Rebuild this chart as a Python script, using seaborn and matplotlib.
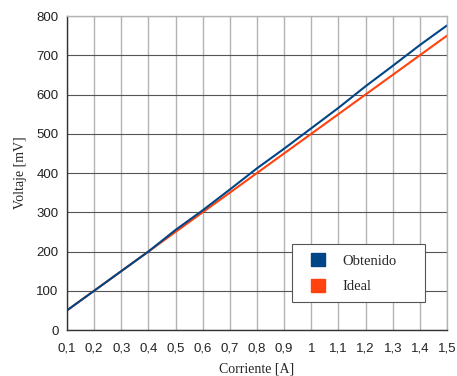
import numpy as np
import pandas as pd
import matplotlib
matplotlib.use("Agg")
import matplotlib.pyplot as plt
import seaborn as sns
from matplotlib.patches import Patch, Rectangle
from matplotlib.legend_handler import HandlerPatch
from matplotlib.ticker import FuncFormatter

# valores
corriente = [0.1, 0.2, 0.3, 0.4, 0.5, 0.6, 0.7, 0.8, 0.9, 1.0, 1.1, 1.2, 1.3, 1.4, 1.5]
obtenido = [50, 100, 150, 200, 255, 305, 358, 412, 462, 514, 566, 621, 673, 726, 776]
ideal = [50, 100, 150, 200, 250, 300, 350, 400, 450, 500, 550, 600, 650, 700, 750]

series_names = ["Obtenido", "Ideal"]
series_colors = ["#004586", "#ff420e"]

df = pd.DataFrame({
    "Corriente": corriente * 2,
    "Voltaje": obtenido + ideal,
    "Serie": ["Obtenido"] * len(corriente) + ["Ideal"] * len(corriente),
})

sns.set_style("white")
plt.rcParams["font.family"] = ["Liberation Sans", "DejaVu Sans"]

fig = plt.figure(figsize=(4.57, 3.76), dpi=100)
ax = fig.add_axes([0.1466, 0.1223, 0.8315, 0.8351])

sns.lineplot(data=df[df["Serie"] == "Ideal"], x="Corriente", y="Voltaje",
             color=series_colors[1], linewidth=1.5, ax=ax, legend=False)
sns.lineplot(data=df[df["Serie"] == "Obtenido"], x="Corriente", y="Voltaje",
             color=series_colors[0], linewidth=1.5, ax=ax, legend=False)

ax.set_xlim(0.1, 1.5)
ax.set_ylim(0, 800)
ax.set_xticks(corriente)
ax.set_yticks(np.arange(0, 801, 100))
ax.xaxis.set_major_formatter(FuncFormatter(lambda v, p: f"{round(v, 1):g}".replace(".", ",")))

ax.grid(True, axis="x", color="#b3b3b3", linewidth=1.0)
ax.grid(True, axis="y", color="#555555", linewidth=0.8)
ax.set_axisbelow(True)

for s in ["top", "right"]:
    ax.spines[s].set_color("#b3b3b3")
    ax.spines[s].set_linewidth(1.0)
for s in ["left", "bottom"]:
    ax.spines[s].set_color("#333333")
    ax.spines[s].set_linewidth(1.0)

ax.tick_params(axis="both", direction="out", length=4, width=1, color="#333333",
               labelsize=9.5, labelcolor="#222222", pad=2)
ax.tick_params(axis="x", pad=5)

ax.set_xlabel("Corriente [A]", family="Liberation Serif", fontsize=10, labelpad=6)
ax.set_ylabel("Voltaje [mV]", family="Liberation Serif", fontsize=10, labelpad=7)


# square legend keys pushed to the right of the handle area (extra left padding)
def square_key(legend, orig_handle, xdescent, ydescent, width, height, fontsize):
    sq = height * 1.08
    return Rectangle((-xdescent + width - sq, -ydescent), sq, height)


handles = [Patch(facecolor=c, edgecolor=c) for c in series_colors]
leg = ax.legend(handles, series_names, loc="lower left", mode="expand",
                bbox_to_anchor=(0.592, 0.089, 0.35, 0.19), fancybox=False, frameon=True,
                edgecolor="#555555", framealpha=1, borderaxespad=0,
                handlelength=1.7, handleheight=1.05, handletextpad=1.15,
                labelspacing=0.75, borderpad=0.6,
                handler_map={Patch: HandlerPatch(patch_func=square_key)},
                prop={"family": "Liberation Serif", "size": 10.5})
leg.get_frame().set_linewidth(0.8)

fig.savefig("out.png", dpi=100)
